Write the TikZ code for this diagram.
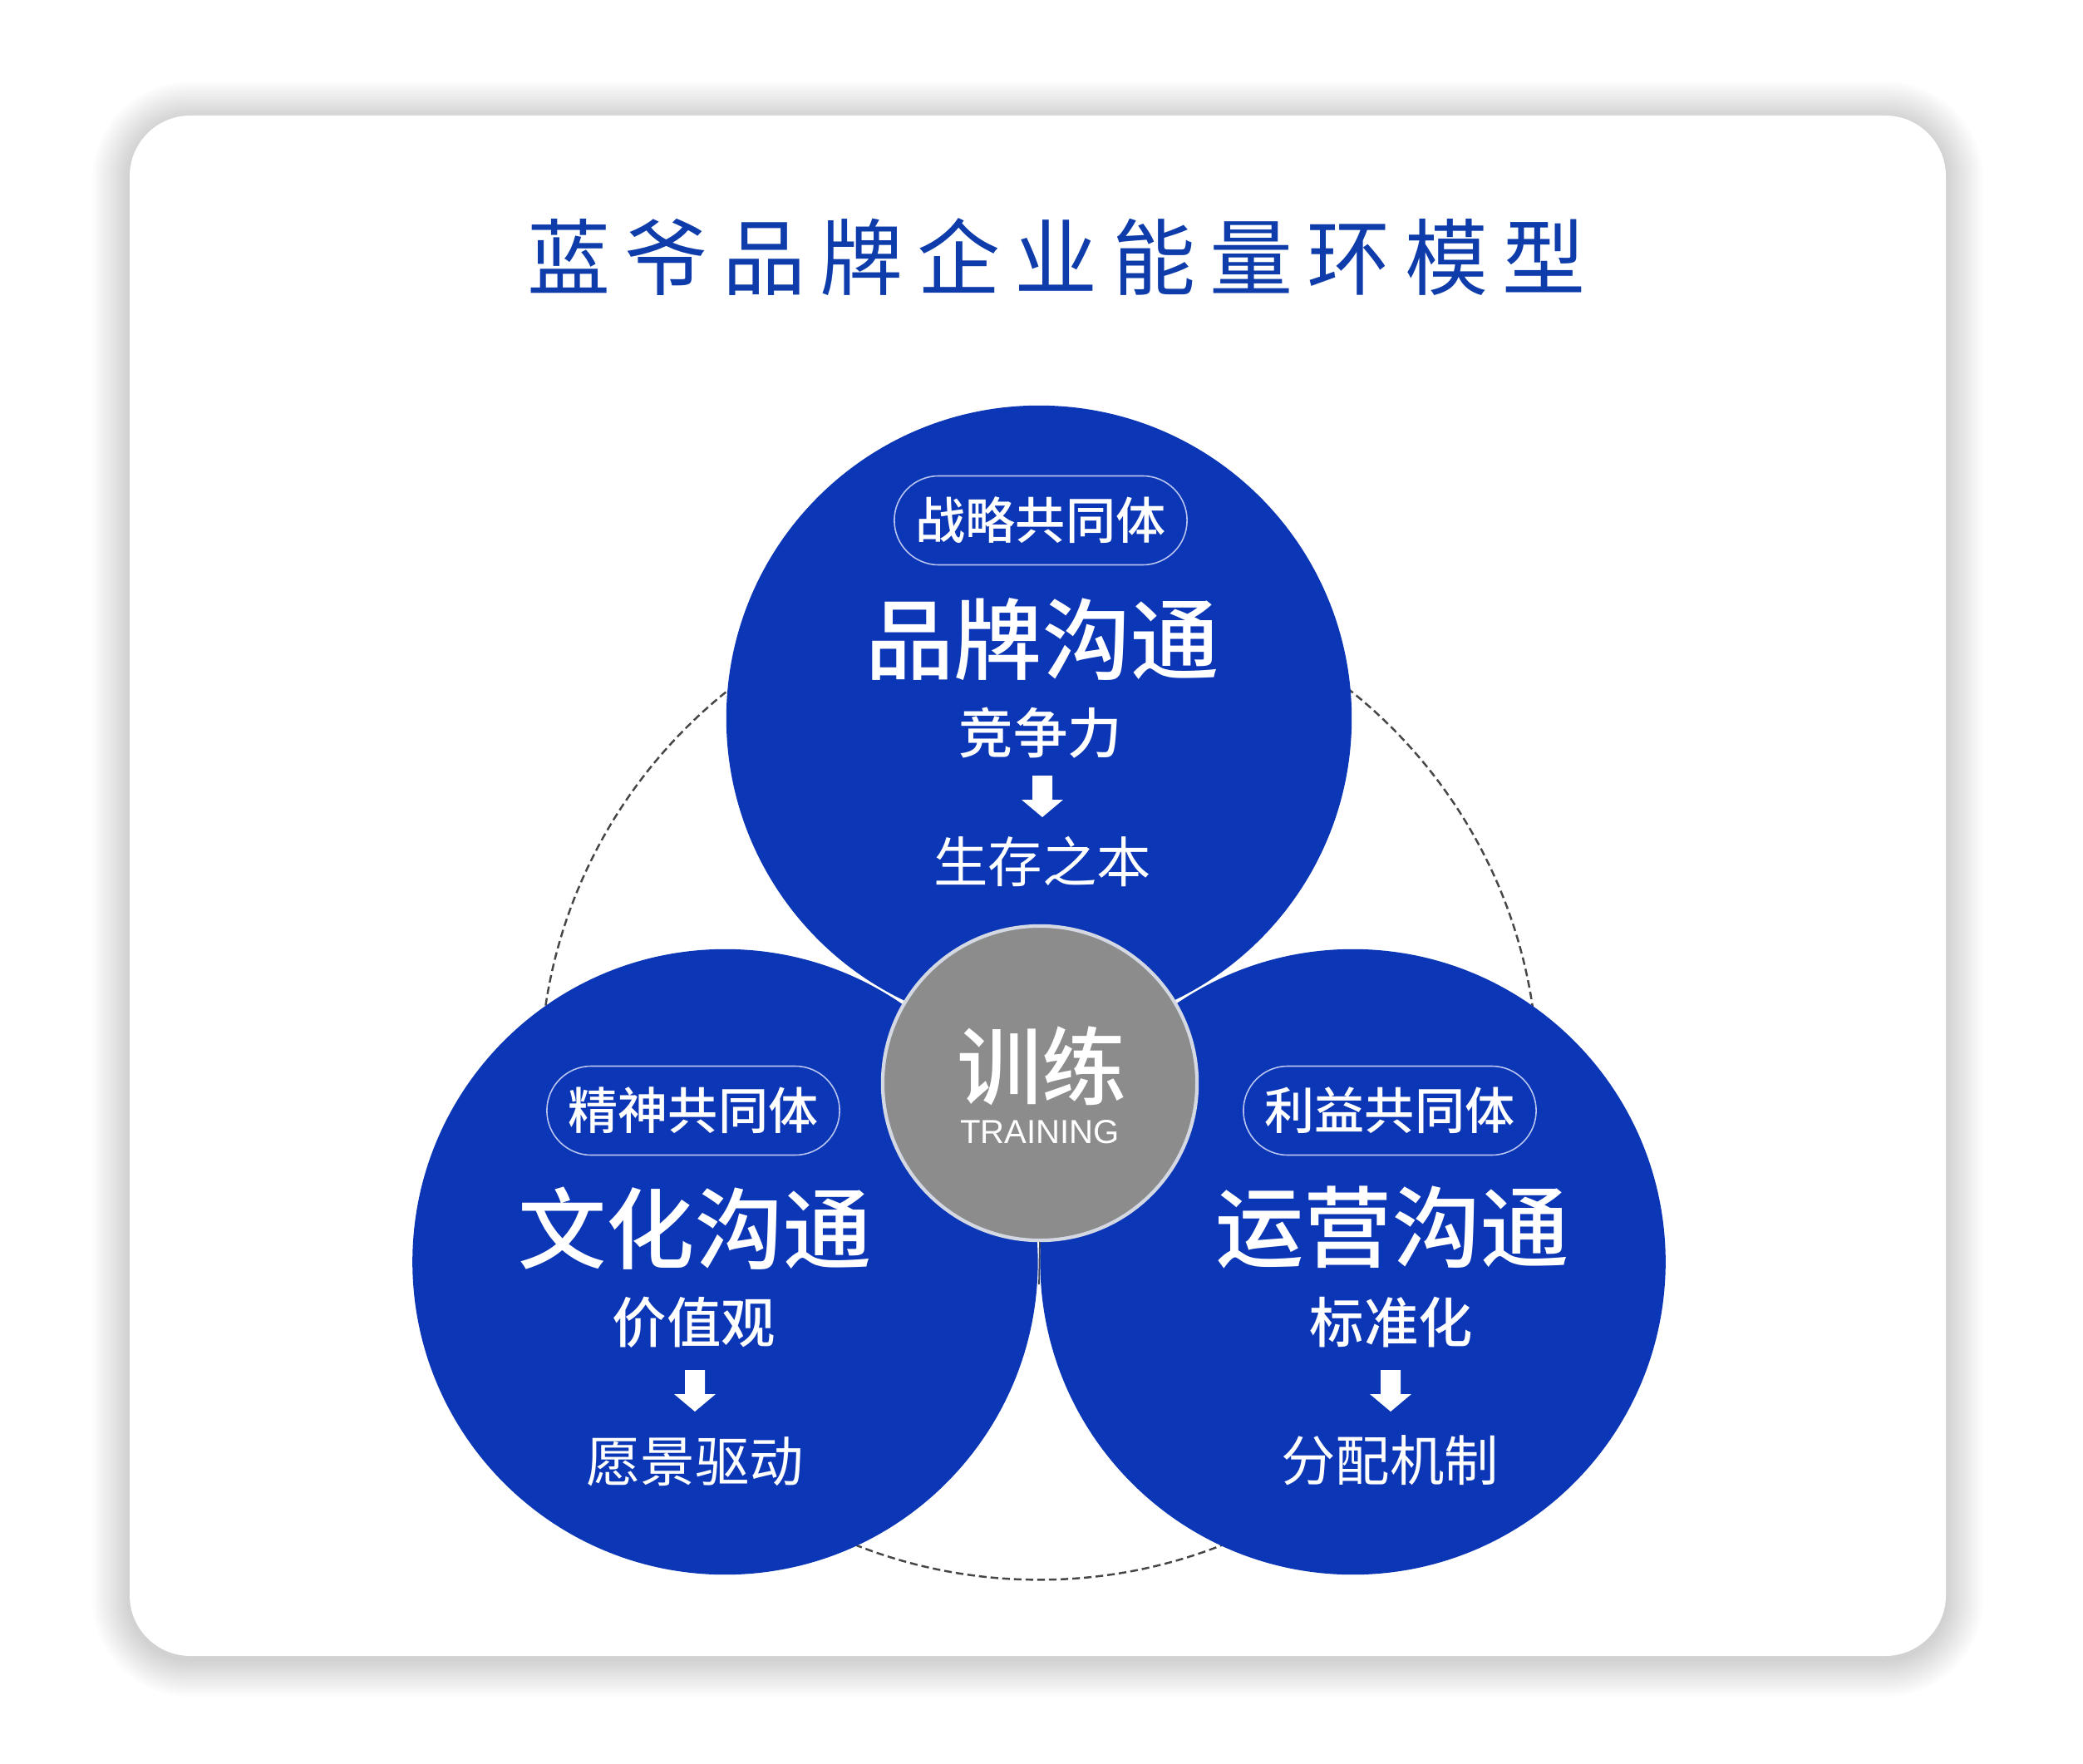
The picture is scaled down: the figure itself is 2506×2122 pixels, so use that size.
\documentclass[tikz,border=0pt]{standalone}
\usepackage{fontspec}
\setmainfont{Noto Sans CJK SC}
\newfontfamily\cjk{Noto Sans CJK SC}
\newfontfamily\cjkm{Noto Sans CJK SC Medium}
\newfontfamily\latinsans{Liberation Sans}
\usetikzlibrary{shapes.misc}
\definecolor{cblue}{RGB}{11,54,181}
\definecolor{tblue}{RGB}{14,60,170}
\definecolor{cgray}{RGB}{140,140,140}
\definecolor{gring}{RGB}{212,216,226}
\definecolor{pillc}{RGB}{185,196,240}
\definecolor{dashc}{RGB}{70,70,70}
\newcommand\tsp{\kern4.9pt}
\begin{document}
\begin{tikzpicture}[x=0.01cm, y=-0.01cm,
  blob/.style={circle, fill=cblue, minimum size=7.52cm, inner sep=0pt},
  pill/.style={rounded rectangle, draw=pillc, line width=0.45pt, minimum width=3.52cm, minimum height=1.07cm, inner sep=0pt, text=white, font=\cjkm\fontsize{17.1}{20}\selectfont},
  bigtxt/.style={text=white, inner sep=0pt, font=\cjkm\fontsize{30.2}{34}\selectfont},
  subtxt/.style={text=white, inner sep=0pt, font=\cjkm\fontsize{18.6}{22}\selectfont},
  lowtxt/.style={text=white, inner sep=0pt, font=\cjk\fontsize{18.6}{22}\selectfont},
  darrow/.pic={\fill[white] (-12,-25) -- (12,-25) -- (12,4) -- (25,4) -- (0,25) -- (-25,4) -- (-12,4) -- cycle;}
]
\fill[white] (0,0) rectangle (2506,2122);
\useasboundingbox (0,0) rectangle (2506,2122);
% card shadow
\foreach \e in {1,...,15}{
  \pgfmathsetmacro\rr{0.73+0.03*\e}
  \fill[black, opacity=0.013, rounded corners=\rr cm] (156-3*\e,143-3*\e) rectangle (2341+3*\e,1996+3*\e);
}
\fill[white, rounded corners=0.73cm] (156,139) rectangle (2341,1992);
% title
\node[text=tblue, inner sep=0pt, font=\cjk\fontsize{28.45}{32}\selectfont] (title) at (1271,309)
  {蓝\tsp 爷\tsp 品\tsp 牌\tsp 企\tsp 业\tsp 能\tsp 量\tsp 环\tsp 模\tsp 型};
% dashed ring
\node[circle, draw=dashc, dash pattern=on 2.6pt off 1.4pt, line width=0.7pt, minimum size=12cm, inner sep=0pt] (ring) at (1250,1300) {};
% blue circles
\node[blob] (ctop) at (1250,864) {};
\node[blob] (cleft) at (872.4,1518) {};
\node[blob] (cright) at (1627.6,1518) {};
% center
\node[circle, fill=cgray, draw=gring, line width=1.2pt, minimum size=3.78cm, inner sep=0pt] (core) at (1251,1303) {};
\coordinate (gapend) at (1250,1545);
\draw[dashc!80!cblue, line width=0.5pt] (core.south) -- (gapend);
\node[text=white, inner sep=0pt, font=\cjkm\fontsize{29}{32}\selectfont] (xl) at (1253,1282) {训练};
\node[text=white, inner sep=0pt, font=\latinsans\fontsize{11.4}{13}\selectfont] (tr) at (1251,1362) {TRAINING};
% top circle texts
\node[pill] (ptop) at (1252,626) {战略共同体};
\node[bigtxt] (btop) at (1254,769) {品牌沟通};
\node[subtxt] (stop) at (1252,882) {竞争力};
\pic at (1254,958) {darrow};
\node[lowtxt] (ltop) at (1254,1036) {生存之本};
% left circle texts
\node[pill] (pleft) at (834,1336) {精神共同体};
\node[bigtxt] (bleft) at (836,1478) {文化沟通};
\node[subtxt] (sleft) at (835,1591) {价值观};
\pic at (836,1673) {darrow};
\node[lowtxt] (lleft) at (836,1758) {愿景驱动};
% right circle texts
\node[pill] (pright) at (1672,1336) {利益共同体};
\node[bigtxt] (bright) at (1675,1477) {运营沟通};
\node[subtxt] (sright) at (1674,1591) {标准化};
\pic at (1673,1673) {darrow};
\node[lowtxt] (lright) at (1672,1757) {分配机制};
\end{tikzpicture}
\end{document}
